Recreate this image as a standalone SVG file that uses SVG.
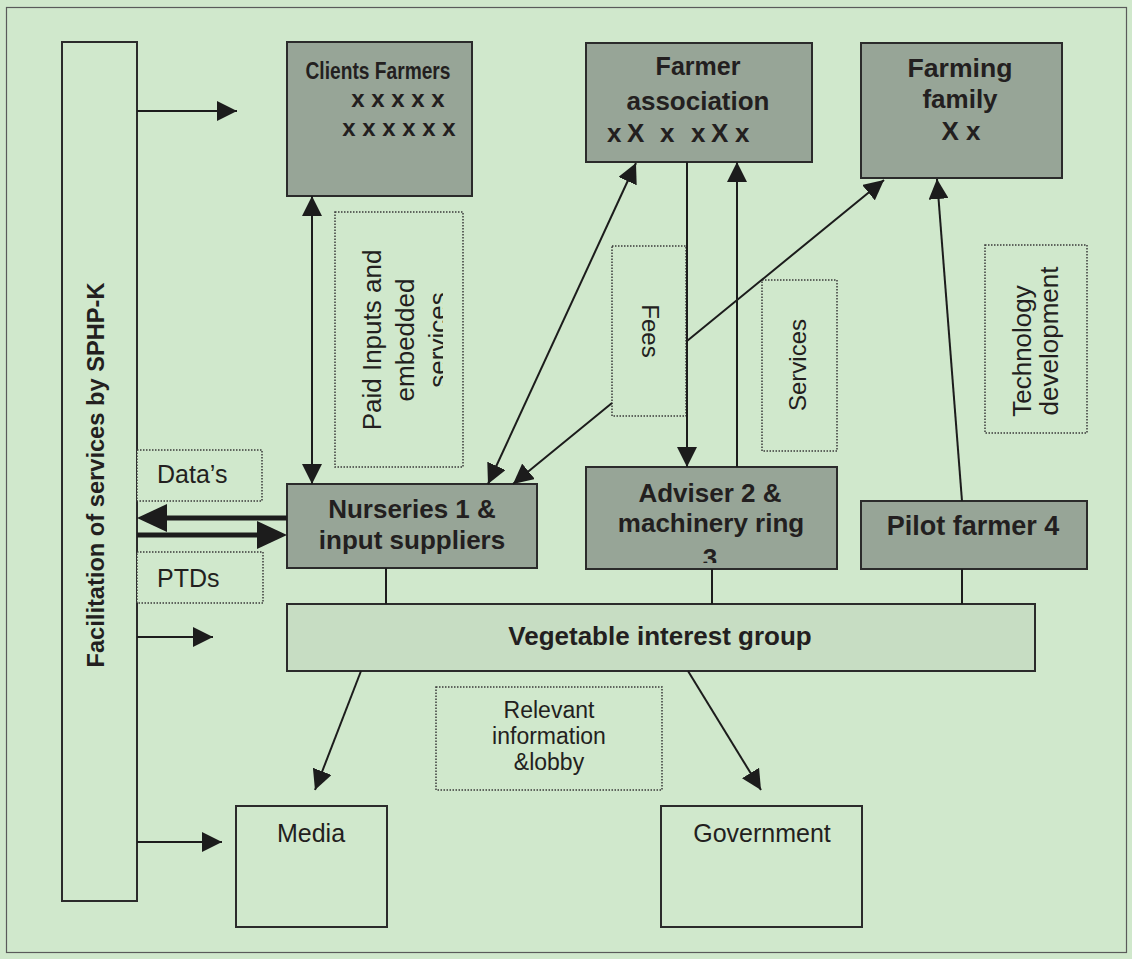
<svg xmlns="http://www.w3.org/2000/svg" width="1132" height="959" viewBox="0 0 1132 959">
<defs>
<style>
.bg{fill:#d0e8cc}
.frame{fill:none;stroke:#5a5a5a;stroke-width:1.2}
.node{fill:#97a597;stroke:#2b2b2b;stroke-width:2}
.plain{fill:#d0e8cc;stroke:#2b2b2b;stroke-width:2}
.vig{fill:#c7ddc3;stroke:#2b2b2b;stroke-width:2}
.lbl{fill:#d0e8cc;stroke:#3a3a3a;stroke-width:1.5;stroke-dasharray:1.5 1.5}
text{font-family:"Liberation Sans",Arial,sans-serif;fill:#231f20}
.b{font-weight:bold}
.c{text-anchor:middle}
.ln{fill:none;stroke:#1c1c1c;stroke-width:2}
.thick{fill:none;stroke:#1c1c1c;stroke-width:5}
</style>
<marker id="ah" markerUnits="userSpaceOnUse" markerWidth="20" markerHeight="20" refX="20" refY="10" orient="auto-start-reverse" viewBox="0 0 20 20"><path d="M0,0 L20,10 L0,20 z" fill="#1c1c1c"/></marker>
<marker id="ahb" markerUnits="userSpaceOnUse" markerWidth="30" markerHeight="28" refX="20" refY="14" orient="auto" viewBox="0 0 30 28"><path d="M0,0 L30,14 L0,28 z" fill="#1c1c1c"/></marker>
<clipPath id="clipAdv"><rect x="587" y="468" width="249" height="95"/></clipPath>
<clipPath id="clipPaid"><rect x="336" y="213" width="107" height="253"/></clipPath>
</defs>
<rect class="bg" x="0" y="0" width="1132" height="959"/>
<rect class="frame" x="6.5" y="7.5" width="1120" height="945"/>

<g id="facilitation">
<rect class="plain" x="62" y="42" width="75" height="859"/>
<text class="b c" transform="translate(104,475) rotate(-90)" font-size="24" textLength="385" lengthAdjust="spacingAndGlyphs">Facilitation of services by SPHP-K</text>
</g>
<g id="clients-farmers">
<rect class="node" x="287" y="42" width="185" height="154"/>
<text class="b c" x="378" y="79" font-size="23" textLength="145" lengthAdjust="spacingAndGlyphs">Clients Farmers</text>
<text class="b c" x="398" y="107" font-size="24">x x x x x</text>
<text class="b c" x="399" y="136" font-size="24">x x x x x x</text>
</g>
<g id="farmer-association">
<rect class="node" x="586" y="43" width="226" height="119"/>
<text class="b c" x="698" y="75" font-size="25">Farmer</text>
<text class="b c" x="698" y="110" font-size="25" textLength="143" lengthAdjust="spacingAndGlyphs">association</text>
<text class="b" x="607 622 627 645 660 677 691 706 711 729 735" y="142" font-size="26">x X x x X x</text>
</g>
<g id="farming-family">
<rect class="node" x="861" y="43" width="201" height="135"/>
<text class="b c" x="960" y="77" font-size="26" textLength="105" lengthAdjust="spacingAndGlyphs">Farming</text>
<text class="b c" x="960" y="108" font-size="26">family</text>
<text class="b c" x="961" y="140" font-size="26">X x</text>
</g>
<g id="nurseries">
<rect class="node" x="287" y="484" width="250" height="84"/>
<text class="b c" x="412" y="518" font-size="26">Nurseries 1 &amp;</text>
<text class="b c" x="412" y="549" font-size="26">input suppliers</text>
</g>
<g id="adviser">
<rect class="node" x="586" y="467" width="251" height="102"/>
<g clip-path="url(#clipAdv)">
<text class="b c" x="710" y="502" font-size="26">Adviser 2 &amp;</text>
<text class="b c" x="711" y="532" font-size="26">machinery ring</text>
<text class="b c" x="710" y="567" font-size="26">3</text>
</g>
</g>
<g id="pilot-farmer">
<rect class="node" x="861" y="501" width="226" height="68"/>
<text class="b c" x="973" y="535" font-size="27">Pilot farmer 4</text>
</g>
<g id="vegetable-interest-group">
<rect class="vig" x="287" y="604" width="748" height="67"/>
<text class="b c" x="660" y="645" font-size="26">Vegetable interest group</text>
</g>
<g id="media">
<rect class="plain" x="236" y="806" width="151" height="121"/>
<text class="c" x="311" y="842" font-size="25">Media</text>
</g>
<g id="government">
<rect class="plain" x="661" y="806" width="201" height="121"/>
<text class="c" x="762" y="842" font-size="25">Government</text>
</g>

<g id="label-paid">
<rect class="lbl" x="335" y="212" width="128" height="255"/>
<g clip-path="url(#clipPaid)" font-size="26">
<text class="c" transform="translate(381,340) rotate(-90)">Paid Inputs and</text>
<text class="c" transform="translate(414,340) rotate(-90)">embedded</text>
<text class="c" transform="translate(447,340) rotate(-90)">services</text>
</g>
</g>
<g id="label-fees">
<rect class="lbl" x="612" y="246" width="74" height="170"/>
<text class="c" transform="translate(642,331) rotate(90)" font-size="24">Fees</text>
</g>
<g id="label-services">
<rect class="lbl" x="762" y="280" width="75" height="171"/>
<text class="c" transform="translate(806,365) rotate(-90)" font-size="24">Services</text>
</g>
<g id="label-technology">
<rect class="lbl" x="985" y="245" width="102" height="188"/>
<text class="c" transform="translate(1031,351) rotate(-90)" font-size="26">Technology</text>
<text class="c" transform="translate(1058,341) rotate(-90)" font-size="26">development</text>
</g>
<g id="label-data">
<rect class="lbl" x="137" y="450" width="125" height="51"/>
<text x="157" y="483" font-size="25">Data’s</text>
</g>
<g id="label-ptds">
<rect class="lbl" x="137" y="552" width="126" height="51"/>
<text x="157" y="587" font-size="25">PTDs</text>
</g>
<g id="label-relevant">
<rect class="lbl" x="436" y="687" width="226" height="103"/>
<text class="c" x="549" y="718" font-size="23">Relevant</text>
<text class="c" x="549" y="744" font-size="23">information</text>
<text class="c" x="549" y="770" font-size="23">&amp;lobby</text>
</g>

<g id="connectors">
<path class="ln" d="M137,111 L237,111" marker-end="url(#ah)"/>
<path class="ln" d="M137,637 L213,637" marker-end="url(#ah)"/>
<path class="ln" d="M137,842 L222,842" marker-end="url(#ah)"/>
<path class="thick" d="M287,518 L147,518" marker-end="url(#ahb)"/>
<path class="thick" d="M137,535 L277,535" marker-end="url(#ahb)"/>
<path class="ln" d="M312,196 L312,484" marker-start="url(#ah)" marker-end="url(#ah)"/>
<path class="ln" d="M636,163 L488,484" marker-start="url(#ah)" marker-end="url(#ah)"/>
<path class="ln" d="M884,180 L687,341 M612,403 L513,484" marker-start="url(#ah)" marker-end="url(#ah)"/>
<path class="ln" d="M687,162 L687,467" marker-end="url(#ah)"/>
<path class="ln" d="M737,467 L737,162" marker-end="url(#ah)"/>
<path class="ln" d="M962,501 L937,179" marker-end="url(#ah)"/>
<path class="ln" d="M386,568 L386,604"/>
<path class="ln" d="M712,569 L712,604"/>
<path class="ln" d="M962,569 L962,604"/>
<path class="ln" d="M361,671 L315,790" marker-end="url(#ah)"/>
<path class="ln" d="M688,671 L761,790" marker-end="url(#ah)"/>
</g>
</svg>
